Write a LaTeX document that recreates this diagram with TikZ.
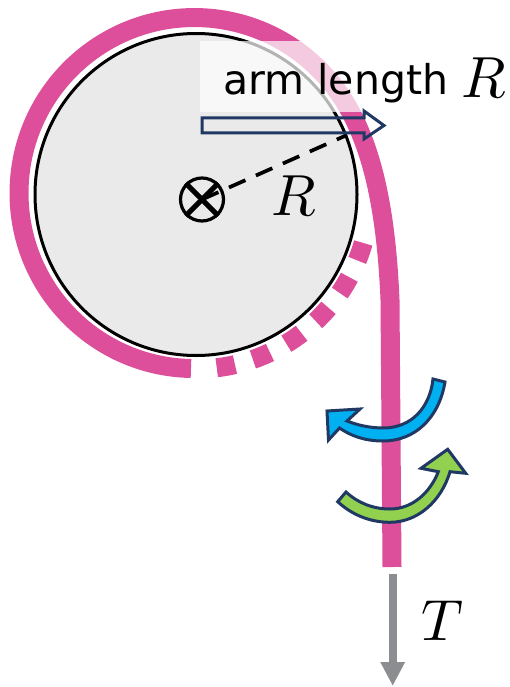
\documentclass[tikz,border=0pt]{standalone}
\usepackage{fontspec}
\newfontfamily\armfont{DejaVu Sans}
\usetikzlibrary{arrows.meta}
\definecolor{bandpink}{HTML}{DD4F9B}
\definecolor{darknavy}{HTML}{1F3864}
\definecolor{twistblue}{HTML}{00B0F0}
\definecolor{twistgreen}{HTML}{92D050}
\definecolor{tensiongrey}{HTML}{8B8D91}
\definecolor{diskgrey}{HTML}{EAEAEA}
\tikzset{
	band/.style={draw=bandpink, line width=19pt},
	twist/.style={draw=darknavy, line width=3pt, line join=miter},
	bigmath/.style={inner sep=0pt, scale=5.8}
}
\begin{document}
\begin{tikzpicture}[x=1pt, y=-1pt]
	\useasboundingbox (0,0) rectangle (510,687);
	
	\coordinate (d) at (196,195);
	
	\draw[band] (191,368.5) arc[start angle=91.15, end angle=315, radius=175.5] .. controls (362,112) and (385,180) .. (390,300) -- (392,567);
	\draw[band, dash pattern=on 18.5pt off 18.6pt] (d) ++(83.15:174) arc[start angle=83.15, end angle=16, radius=174];
	
	\node[draw, circle, fill=diskgrey, line width=3pt, minimum size=322pt, inner sep=0pt] (disk) at (196,194.5) {};
	\node[draw, circle, line width=3.2pt, minimum size=43pt, inner sep=0pt] (axis) at (202,199.5) {};
	\draw[line width=5pt] (axis.north west) -- (axis.south east);
	\draw[line width=5pt] (axis.north east) -- (axis.south west);
	
	\coordinate (rim) at (347,135);
	\draw[line width=3.7pt, dash pattern=on 18pt off 11.5pt] (axis.center) -- (rim);
	\node[bigmath, anchor=base west] (radius) at (270.5,215) {$R$};
	
	\fill[white, opacity=0.7] (200,41) rectangle (510,112);
	\node[inner sep=0pt, anchor=base west] (arm) at (223,95) {\armfont\fontsize{41}{45}\selectfont arm length};
	\node[bigmath, anchor=base west] (armr) at (460,98) {$R$};
	
	\draw[twist] (202,118) -- (364,118) -- (364,111) -- (384,125.5) -- (364,139) -- (364,133) -- (202,133) -- cycle;
	
	\draw[twist, fill=twistblue] (433,379) -- (445,382) .. controls (439,418) and (415,441) .. (383,441) .. controls (365,441) and (351,436) .. (339.5,428) -- (328.5,440) -- (327,411) -- (360,409) -- (347,421) .. controls (357,425) and (370,428) .. (383,428) .. controls (412,428) and (430,407) .. (433,379) -- cycle;
	\draw[twist, fill=twistgreen] (337.7,501.7) -- (346,492) .. controls (358,503) and (373,509) .. (390,509) .. controls (412,509) and (430,493) .. (438.3,471.7) -- (421,468.3) -- (447.7,449.3) -- (465.7,473.3) -- (450,471.7) .. controls (441,502) and (417,522.3) .. (390,522.3) .. controls (369,522.3) and (351,514) .. (337.7,501.7) -- cycle;
	
	\coordinate (tstart) at (392.7,574);
	\coordinate (tend) at (392.7,686);
	\draw[tensiongrey, line width=8pt, -{Triangle[length=24pt, width=23pt]}] (tstart) -- (tend);
	\node[bigmath, anchor=base west] (tension) at (420,640) {$T$};
\end{tikzpicture}
\end{document}
